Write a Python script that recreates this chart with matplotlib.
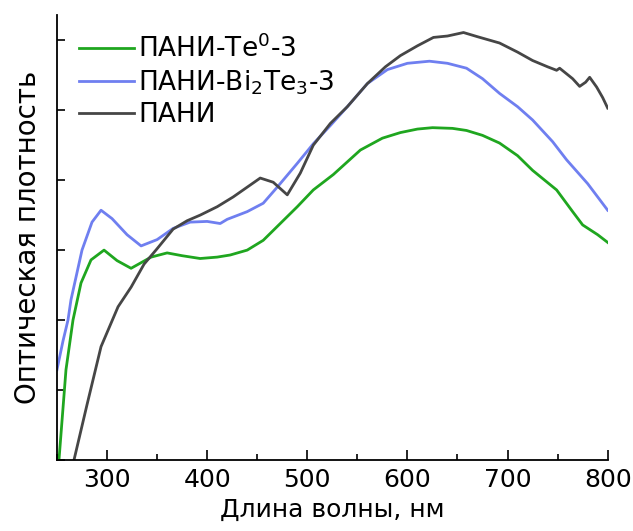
import matplotlib
matplotlib.use('Agg')
import numpy as np
import matplotlib.pyplot as plt
from matplotlib.ticker import MultipleLocator

# Values (wavelength, nm / optical density, a.u.)
wl_te = [252, 259, 266, 274, 284, 297, 310, 324, 344, 360, 375, 393, 410, 423,
         440, 456, 473, 490, 506, 526, 553, 575, 593, 610, 625, 645, 659, 675,
         692, 710, 725, 749, 765, 775, 790, 800]
od_te = [0.0, 1.29, 2.0, 2.53, 2.86, 3.0, 2.85, 2.74, 2.9, 2.96, 2.92, 2.88, 2.9, 2.93,
         3.0, 3.14, 3.38, 3.62, 3.86, 4.08, 4.43, 4.6, 4.68, 4.73, 4.75, 4.74, 4.71, 4.64,
         4.53, 4.35, 4.14, 3.86, 3.55, 3.36, 3.22, 3.11]

wl_bi = [250, 256, 261, 264, 275, 285, 294, 305, 320, 334, 350, 366, 383, 400,
         413, 420, 440, 456, 470, 490, 506, 523, 540, 560, 580, 600, 622, 640,
         659, 675, 692, 710, 725, 745, 759, 780, 800]
od_bi = [1.29, 1.7, 2.0, 2.29, 3.0, 3.4, 3.57, 3.45, 3.22, 3.06, 3.15, 3.31, 3.4, 3.41,
         3.38, 3.44, 3.55, 3.67, 3.9, 4.24, 4.52, 4.78, 5.05, 5.38, 5.58, 5.67, 5.7, 5.67,
         5.6, 5.45, 5.24, 5.05, 4.86, 4.55, 4.29, 3.95, 3.57]

wl_pani = [267, 280, 294, 311, 324, 337, 350, 366, 380, 393, 410, 426, 440, 453,
           466, 480, 493, 506, 523, 540, 560, 578, 593, 610, 626, 640, 656, 670,
           692, 710, 725, 740, 749, 752, 765, 772, 778, 782, 789, 795, 800]
od_pani = [0.0, 0.79, 1.62, 2.19, 2.47, 2.8, 3.02, 3.3, 3.42, 3.5, 3.62, 3.76, 3.9, 4.03,
           3.97, 3.79, 4.1, 4.5, 4.81, 5.05, 5.38, 5.62, 5.78, 5.92, 6.04, 6.06, 6.11, 6.05,
           5.96, 5.83, 5.71, 5.62, 5.57, 5.6, 5.45, 5.34, 5.4, 5.47, 5.33, 5.18, 5.03]

labels = ['ПАНИ-Te$^{0}$-3', 'ПАНИ-Bi$_{2}$Te$_{3}$-3', 'ПАНИ']
colors = ['#1fa61f', '#6f7ff0', '#464646']

plt.rcParams['font.family'] = ['DejaVu Sans']
plt.rcParams['mathtext.fontset'] = 'dejavusans'

fig = plt.figure(figsize=(6.33, 5.31), dpi=100)
ax = fig.add_axes([0.090, 0.1337, 0.870, 0.838])

for wl, od, lab, col in zip([wl_te, wl_bi, wl_pani], [od_te, od_bi, od_pani], labels, colors):
    ax.plot(wl, od, color=col, linewidth=2.0, label=lab)

ax.set_xlim(250, 800)
ax.set_ylim(0, 6.36)
ax.set_xticks([300, 400, 500, 600, 700, 800])
ax.xaxis.set_minor_locator(MultipleLocator(50))
ax.yaxis.set_major_locator(MultipleLocator(1))
ax.set_yticklabels([])

ax.tick_params(axis='x', which='major', direction='in', length=7, width=1.2, labelsize=18, pad=6)
ax.tick_params(axis='x', which='minor', direction='in', length=4, width=1.2)
ax.tick_params(axis='y', which='major', direction='in', length=6, width=1.2)

for side in ['top', 'right']:
    ax.spines[side].set_visible(False)
for side in ['left', 'bottom']:
    ax.spines[side].set_linewidth(1.3)

ax.set_xlabel('Длина волны, нм', fontsize=18, labelpad=4)
ax.set_ylabel('Оптическая плотность', fontsize=20, labelpad=7)

ax.legend(loc='upper left', frameon=False, fontsize=19, handlelength=2.1,
          handletextpad=0.15, labelspacing=0.2, borderaxespad=0.0,
          bbox_to_anchor=(0.02, 0.98))

plt.savefig('out.png', dpi=100)
